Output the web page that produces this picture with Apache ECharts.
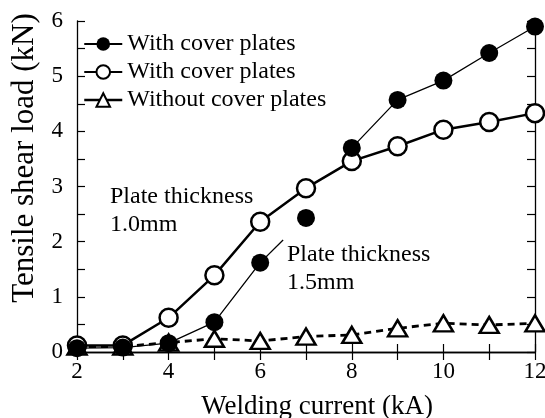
<!DOCTYPE html>
<html><head><meta charset="utf-8">
<script src="https://cdn.jsdelivr.net/npm/echarts@6/dist/echarts.min.js"></script>
<style>html,body{margin:0;padding:0;background:#fff}#c{width:545px;height:418px}</style>
</head><body><div id="c"></div>
<script>
// ---- data ----
const currents = [2, 3, 4, 5, 6, 7, 8, 9, 10, 11, 12];
const filledLoad = [0.07, 0.08, 0.16, 0.54, 1.62, 2.43, 3.70, 4.57, 4.92, 5.42, 5.90];
const openLoad = [0.12, 0.12, 0.62, 1.39, 2.36, 2.97, 3.46, 3.73, 4.03, 4.17, 4.33];
const noCoverLoad = [0.1, 0.1, 0.17, 0.24, 0.2, 0.28, 0.31, 0.43, 0.52, 0.49, 0.52];
const filledBreakAfter = [6, 7]; // line is not drawn after these currents
const seriesNames = ['With cover plates', 'With cover plates ', 'Without cover plates'];
const xTickLabels = [2, 4, 6, 8, 10, 12];
const yTickLabels = [0, 1, 2, 3, 4, 5, 6];

const FONT = '"Liberation Serif", "Times New Roman", serif';

function pairs(xs, ys) { return xs.map((x, i) => [x, ys[i]]); }
function withBreaks(xs, ys, breaks) {
  const out = [];
  xs.forEach((x, i) => {
    out.push([x, ys[i]]);
    if (breaks.includes(x) && i < xs.length - 1) out.push([(x + xs[i + 1]) / 2, '-']);
  });
  return out;
}

const chart = echarts.init(document.getElementById('c'), null, {renderer: 'canvas'});
const axisCommon = {
  axisLine: {lineStyle: {color: '#000', width: 1.3}},
  axisTick: {inside: true, length: 8, lineStyle: {color: '#000', width: 1.2}},
  splitLine: {show: false}
};
chart.setOption({
  backgroundColor: '#fff',
  animation: false,
  grid: {left: 77, right: 10, top: 21, bottom: 66, containLabel: false, outerBoundsMode: 'none'},
  legend: {
    left: 78, top: 27, orient: 'vertical', itemGap: 4,
    itemWidth: 38, itemHeight: 17,
    textStyle: {fontFamily: FONT, fontSize: 24, color: '#000'},
    data: [
      {name: seriesNames[0]},
      {name: seriesNames[1]},
      {name: seriesNames[2], lineStyle: {type: 'solid', width: 2.5}}
    ]
  },
  xAxis: [
    Object.assign({type: 'value', min: 2, max: 12, interval: 1, position: 'bottom',
      name: 'Welding current (kA)', nameLocation: 'middle', nameGap: 41,
      nameTextStyle: {fontFamily: FONT, fontSize: 27, color: '#000', padding: [0, 0, 0, 22]},
      axisLabel: {fontFamily: FONT, fontSize: 23, color: '#000', margin: 8,
        formatter: v => xTickLabels.includes(v) ? String(v) : ''}}, axisCommon),
    Object.assign({type: 'value', min: 2, max: 12, interval: 1, position: 'top',
      axisLabel: {show: false}}, axisCommon)
  ],
  yAxis: [
    Object.assign({type: 'value', min: 0, max: 6, interval: 0.5, position: 'left',
      name: 'Tensile shear load (kN)', nameLocation: 'middle', nameGap: 36,
      nameTextStyle: {fontFamily: FONT, fontSize: 31, color: '#000', padding: [0, 0, 0, 57]},
      axisLabel: {fontFamily: FONT, fontSize: 23, color: '#000', margin: 14,
        formatter: v => yTickLabels.includes(v) ? String(v) : ''}}, axisCommon),
    Object.assign({type: 'value', min: 0, max: 6, interval: 0.5, position: 'right',
      axisLabel: {show: false}}, axisCommon)
  ],
  series: [
    {
      name: seriesNames[2], type: 'line', z: 2,
      data: pairs(currents, noCoverLoad),
      symbol: 'triangle', symbolSize: [19, 16],
      lineStyle: {color: '#000', width: 2.8, type: [7, 5]},
      itemStyle: {color: '#fff', borderColor: '#000', borderWidth: 2.5}
    },
    {
      name: seriesNames[1], type: 'line', z: 3,
      data: pairs(currents, openLoad),
      symbol: 'circle', symbolSize: 18,
      lineStyle: {color: '#000', width: 2.5},
      itemStyle: {color: '#fff', borderColor: '#000', borderWidth: 2.5}
    },
    {
      name: seriesNames[0], type: 'line', z: 4,
      data: withBreaks(currents, filledLoad, filledBreakAfter),
      connectNulls: false,
      symbol: 'circle', symbolSize: 18,
      lineStyle: {color: '#000', width: 1.3},
      itemStyle: {color: '#000', borderColor: '#000', borderWidth: 0},
      markLine: {
        silent: true, symbol: 'none', label: {show: false},
        lineStyle: {color: '#000', width: 1.3, type: 'solid'},
        data: [[{coord: [6, 1.62]}, {coord: [6.5, 2.03]}]]
      }
    }
  ],
  graphic: [
    {type: 'text', left: 110, top: 183, z: 10,
      style: {text: 'Plate thickness\n1.0mm', font: '24px ' + FONT, fill: '#000', lineHeight: 28}},
    {type: 'text', left: 287, top: 241, z: 10,
      style: {text: 'Plate thickness\n1.5mm', font: '24px ' + FONT, fill: '#000', lineHeight: 28}}
  ]
});
</script></body></html>
